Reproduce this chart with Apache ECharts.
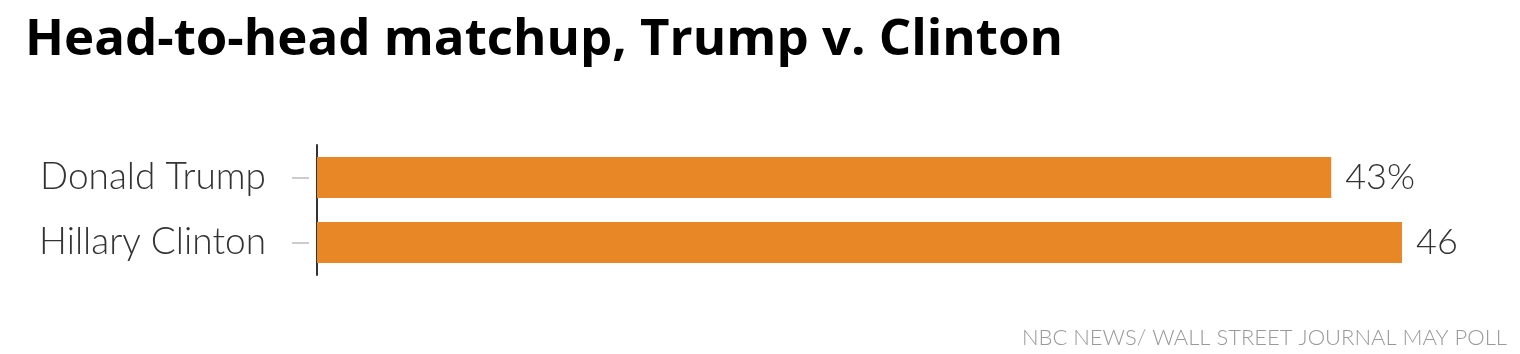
<!DOCTYPE html>
<html>
<head>
<meta charset="utf-8">
<script src="https://cdn.jsdelivr.net/npm/echarts@6/dist/echarts.min.js"></script>
<style>
  html, body { margin: 0; padding: 0; background: #fff; }
  #chart { width: 1520px; height: 354px; }
</style>
</head>
<body>
<div id="chart"></div>
<script>
// 候选人和支持率
const candidates = ["Donald Trump", "Hillary Clinton"];
const support = [43, 46];
const valueSuffix = ["%", ""];

const chart = echarts.init(document.getElementById("chart"));

const option = {
  animation: false,
  title: {
    text: "Head-to-head matchup, Trump v. Clinton",
    left: 20,
    top: 10,
    textStyle: {
      fontFamily: "Open Sans",
      fontWeight: "bold",
      fontSize: 51,
      color: "#000",
    },
  },
  grid: {
    left: 317,
    right: 118,
    top: 145,
    height: 130,
  },
  xAxis: {
    type: "value",
    min: 0,
    max: 46,
    show: false,
  },
  yAxis: [
    {
      type: "category",
      data: candidates,
      inverse: true,
      axisLine: { lineStyle: { color: "#333", width: 2 } },
      axisTick: { show: false },
      axisLabel: { show: false },
    },
    {
      // 左侧的灰色短刻度和标签
      type: "category",
      data: candidates,
      inverse: true,
      position: "left",
      offset: 8,
      axisLine: { show: false },
      axisTick: {
        show: true,
        alignWithLabel: true,
        length: 17,
        lineStyle: { color: "#ccc", width: 2 },
      },
      axisLabel: {
        margin: 43,
        fontFamily: "Lato",
        fontWeight: 300,
        fontSize: 37,
        color: "#333",
      },
    },
  ],
  series: [
    {
      type: "bar",
      data: support,
      barWidth: 41,
      itemStyle: { color: "#E88726" },
      label: {
        show: true,
        position: "right",
        distance: 14,
        fontFamily: "Lato",
        fontWeight: 300,
        fontSize: 36,
        color: "#333",
        formatter: (p) => p.value + valueSuffix[p.dataIndex],
      },
    },
  ],
  graphic: [
    {
      type: "text",
      right: 13,
      bottom: 5,
      style: {
        text: "NBC NEWS/ WALL STREET JOURNAL MAY POLL",
        font: "300 22px Lato",
        fill: "#999",
      },
    },
  ],
};

chart.setOption(option);
</script>
</body>
</html>
